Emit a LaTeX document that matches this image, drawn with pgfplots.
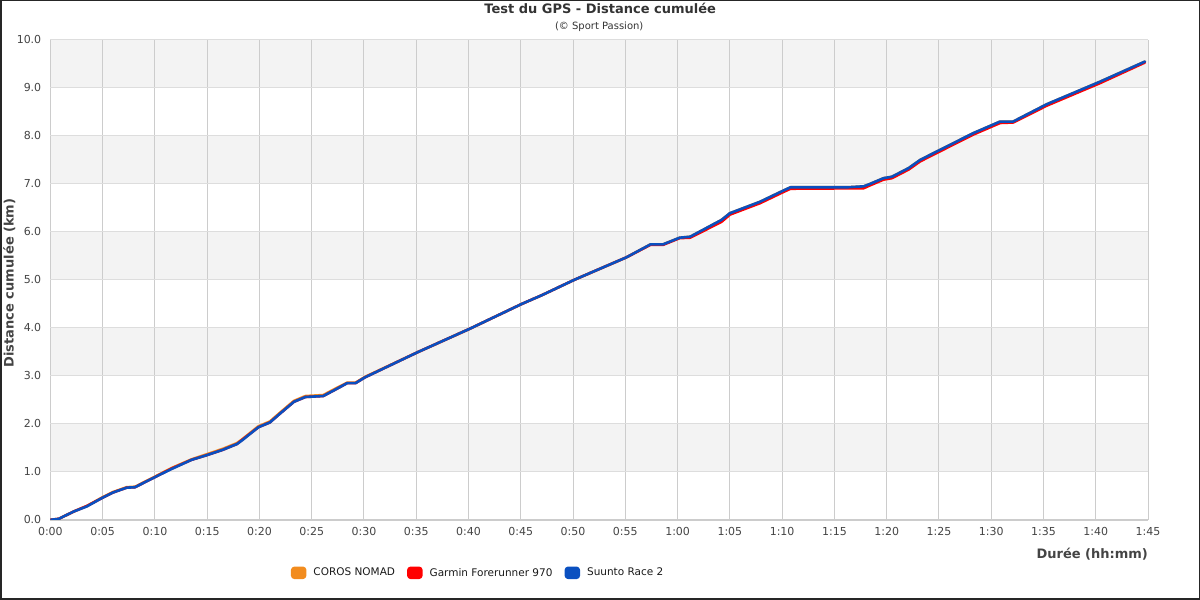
\documentclass[border=0pt]{standalone}
\usepackage{fontspec}
\setmainfont{DejaVu Sans}
\usepackage{pgfplots}
\pgfplotsset{compat=1.18}
\usepackage{pgfplotstable}
\definecolor{cband}{HTML}{F3F3F3}
\definecolor{cgridx}{HTML}{CCCCCC}
\definecolor{cgridy}{HTML}{DDDDDD}
\definecolor{ctext}{HTML}{444444}
\definecolor{ctitle}{HTML}{333333}
\definecolor{corange}{HTML}{F28C1E}
\definecolor{cred}{HTML}{FF0000}
\definecolor{cblue}{HTML}{0A50C0}

\pgfplotstableread{
t d
0 0
0.8 0.02
2.2 0.17
3.5 0.29
4.9 0.46
6.0 0.58
7.3 0.68
8.1 0.69
10.0 0.90
11.6 1.08
13.5 1.26
15.0 1.37
16.5 1.48
17.85 1.60
18.3 1.67
19.9 1.95
21.0 2.05
22.0 2.24
23.3 2.48
24.4 2.58
26.1 2.60
27.4 2.75
28.4 2.86
29.2 2.86
30.1 2.98
35.1 3.49
40.1 3.98
45.1 4.50
47.0 4.68
50.1 5.00
55.1 5.47
57.4 5.74
58.6 5.74
60.2 5.88
61.2 5.90
64.2 6.25
65.0 6.39
67.9 6.63
70.1 6.86
70.8 6.93
76.2 6.93
77.8 6.95
78.4 7.00
79.7 7.12
80.5 7.15
82.1 7.33
83.2 7.50
85.1 7.71
88.3 8.06
90.85 8.30
92.1 8.30
95.3 8.66
100.4 9.13
104.7 9.55
}\coros

\pgfplotstableread{
t d
0 0
0.8 0.02
2.2 0.17
3.5 0.29
4.9 0.45
6.0 0.57
7.3 0.67
8.1 0.68
10.0 0.89
11.6 1.07
13.5 1.25
15.0 1.35
16.5 1.46
17.85 1.58
18.3 1.66
19.9 1.93
21.0 2.03
22.0 2.22
23.3 2.46
24.4 2.56
26.1 2.58
27.4 2.73
28.4 2.85
29.2 2.85
30.1 2.97
35.1 3.49
40.1 3.98
45.1 4.50
47.0 4.68
50.1 5.00
55.1 5.47
57.4 5.73
58.6 5.73
60.2 5.87
61.2 5.88
64.2 6.21
65.0 6.36
67.9 6.60
70.1 6.83
70.8 6.90
77.8 6.91
78.4 6.97
79.7 7.09
80.5 7.12
82.1 7.30
83.2 7.47
85.1 7.68
88.3 8.03
90.85 8.27
92.1 8.28
95.3 8.63
100.4 9.10
104.7 9.53
}\garmin

\pgfplotstableread{
t d
0 0
0.8 0.02
2.2 0.17
3.5 0.28
4.9 0.45
6.0 0.57
7.3 0.67
8.1 0.68
10.0 0.89
11.6 1.06
13.5 1.25
15.0 1.35
16.5 1.46
17.85 1.58
18.3 1.65
19.9 1.93
21.0 2.03
22.0 2.22
23.3 2.46
24.4 2.56
26.1 2.58
27.4 2.73
28.4 2.85
29.2 2.85
30.1 2.97
35.1 3.49
40.1 3.98
45.1 4.50
47.0 4.68
50.1 5.00
55.1 5.47
57.4 5.74
58.6 5.74
60.2 5.88
61.2 5.90
64.2 6.25
65.0 6.39
67.9 6.63
70.1 6.86
70.8 6.93
76.2 6.93
77.8 6.95
78.4 7.00
79.7 7.12
80.5 7.15
82.1 7.33
83.2 7.50
85.1 7.71
88.3 8.06
90.85 8.30
92.1 8.30
95.3 8.66
100.4 9.13
104.7 9.55
}\suunto

\begin{document}
\begin{tikzpicture}
\path (0pt,0pt) rectangle (1200pt,600pt);
\begin{axis}[
  at={(50pt,80pt)}, anchor=south west,
  scale only axis, width=1098pt, height=480pt,
  xmin=0, xmax=105, ymin=0, ymax=10,
  set layers,
  xtick={0,5,...,105},
  xticklabels={0:00,0:05,0:10,0:15,0:20,0:25,0:30,0:35,0:40,0:45,0:50,0:55,1:00,1:05,1:10,1:15,1:20,1:25,1:30,1:35,1:40,1:45},
  ytick={0,1,...,10},
  /pgf/number format/assume math mode=true,
  yticklabel style={/pgf/number format/fixed, /pgf/number format/fixed zerofill, /pgf/number format/precision=1, xshift=-5.6pt},
  xticklabel style={yshift=-3.7pt},
  xmajorgrids, ymajorgrids,
  x grid style={draw=cgridx, line width=1pt},
  y grid style={draw=cgridy, line width=1pt},
  axis x line*=bottom, axis y line*=left,
  x axis line style={draw=cgridx, line width=1.5pt},
  y axis line style={draw=none},
  major tick length=0pt,
  tick label style={font=\fontsize{11}{13}\selectfont, text=ctext},
  xlabel={Durée (hh:mm)},
  xlabel style={at={(axis description cs:1,-0.0796)}, anchor=base east, inner sep=0pt, font=\bfseries\fontsize{13}{15}\selectfont, text=ctext},
  ylabel={Distance cumulée (km)},
  ylabel style={at={(axis description cs:-0.03734,0.4937)}, anchor=center, font=\bfseries\fontsize{13}{15}\selectfont, text=ctext},
  legend columns=3,
  legend style={at={(axis description cs:0.3897,-0.1104)}, anchor=center, draw=none, fill=none,
    font=\fontsize{10.5}{12}\selectfont, text=black!90,
    /tikz/every odd column/.append style={column sep=5pt},
    /tikz/every even column/.append style={column sep=10pt}},
  legend image code/.code={\fill[rounded corners=2.5pt] (0pt,-5pt) rectangle (13pt,5pt);},
]
\addplot[forget plot, draw=none, fill=cband, on layer=axis background] coordinates {(0,1) (105,1) (105,2) (0,2) (0,1)};
\addplot[forget plot, draw=none, fill=cband, on layer=axis background] coordinates {(0,3) (105,3) (105,4) (0,4) (0,3)};
\addplot[forget plot, draw=none, fill=cband, on layer=axis background] coordinates {(0,5) (105,5) (105,6) (0,6) (0,5)};
\addplot[forget plot, draw=none, fill=cband, on layer=axis background] coordinates {(0,7) (105,7) (105,8) (0,8) (0,7)};
\addplot[forget plot, draw=none, fill=cband, on layer=axis background] coordinates {(0,9) (105,9) (105,10) (0,10) (0,9)};
\addplot[corange, line width=2.6pt, line join=round, line cap=round] table[x=t,y=d] {\coros};
\addlegendentry{COROS NOMAD}
\addplot[cred, line width=2.6pt, line join=round, line cap=round] table[x=t,y=d] {\garmin};
\addlegendentry{Garmin Forerunner 970}
\addplot[cblue, line width=2.6pt, line join=round, line cap=round] table[x=t,y=d] {\suunto};
\addlegendentry{Suunto Race 2}
\end{axis}
\node[anchor=base, font=\bfseries\fontsize{13}{15}\selectfont, text=ctitle] at (600pt,586pt) {Test du GPS - Distance cumulée};
\node[anchor=base, font=\fontsize{10}{12}\selectfont, text=ctitle] at (599pt,570.4pt) {(© Sport Passion)};
\draw[black!85, line width=1.5pt] (0.75pt,0.75pt) rectangle (1199.25pt,599.25pt);
\end{tikzpicture}
\end{document}
